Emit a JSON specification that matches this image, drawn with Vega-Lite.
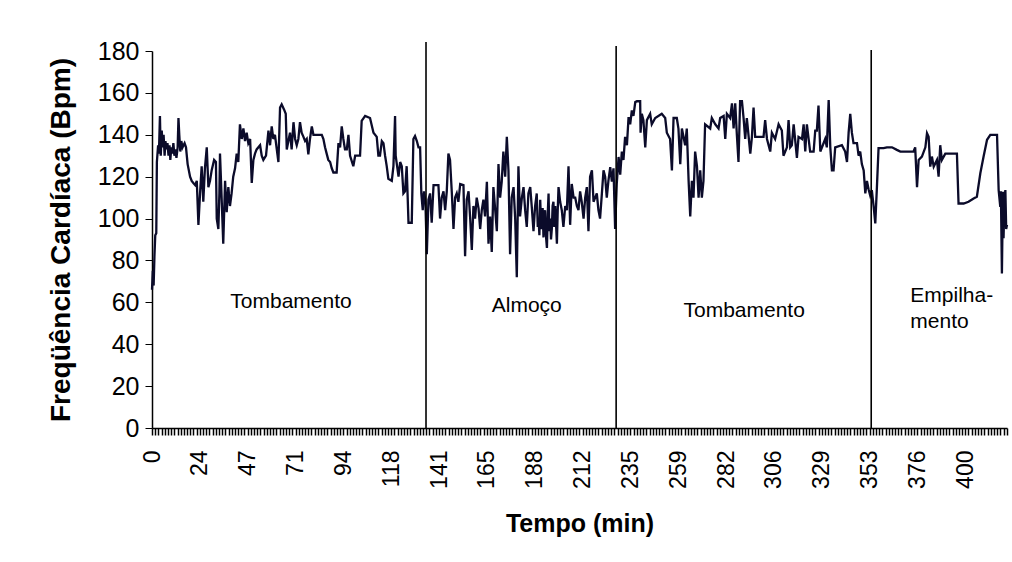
{
  "$schema": "https://vega.github.io/schema/vega-lite/v6.json",
  "width": 855,
  "height": 377,
  "autosize": {"type": "none"},
  "padding": {"left": 152, "top": 51, "right": 5, "bottom": 134},
  "background": "white",
  "config": {"view": {"stroke": null}, "font": "Liberation Sans"},
  "datasets": {
    "hr": [
      {"t":0,"hr":66},{"t":0.4,"hr":75},{"t":0.8,"hr":68},{"t":1.2,"hr":82},{"t":1.6,"hr":92},{"t":2.1,"hr":93},{"t":2.4,"hr":127},{"t":3.0,"hr":135},{"t":3.4,"hr":131},{"t":3.9,"hr":149},{"t":4.3,"hr":130},{"t":4.8,"hr":142},{"t":5.2,"hr":134},{"t":5.7,"hr":140},{"t":6.2,"hr":130},{"t":6.6,"hr":137},{"t":7.1,"hr":133},{"t":7.6,"hr":136},{"t":8.1,"hr":130},{"t":8.6,"hr":135},{"t":9.0,"hr":128},{"t":9.5,"hr":134},{"t":10.0,"hr":131},{"t":10.5,"hr":136},{"t":11.0,"hr":130},{"t":11.5,"hr":133},{"t":12.0,"hr":129},{"t":12.6,"hr":134},{"t":13.0,"hr":148},{"t":13.4,"hr":140},{"t":13.9,"hr":132},{"t":14.4,"hr":137},{"t":15.0,"hr":134},{"t":16.0,"hr":136},{"t":16.7,"hr":134},{"t":17.5,"hr":126},{"t":18.7,"hr":120},{"t":19.5,"hr":118},{"t":20.3,"hr":117},{"t":21.2,"hr":116},{"t":22.0,"hr":118},{"t":22.8,"hr":97},{"t":23.6,"hr":112},{"t":24.4,"hr":125},{"t":25.2,"hr":108},{"t":26.0,"hr":124},{"t":26.9,"hr":134},{"t":27.7,"hr":115},{"t":28.5,"hr":118},{"t":29.3,"hr":123},{"t":30.5,"hr":128},{"t":31.4,"hr":127},{"t":31.8,"hr":100},{"t":32.6,"hr":95},{"t":33.1,"hr":112},{"t":33.4,"hr":131},{"t":34.2,"hr":110},{"t":35.0,"hr":88},{"t":35.9,"hr":118},{"t":36.7,"hr":103},{"t":37.5,"hr":115},{"t":38.3,"hr":106},{"t":39.1,"hr":112},{"t":39.9,"hr":120},{"t":40.8,"hr":124},{"t":41.6,"hr":131},{"t":42.4,"hr":127},{"t":43.2,"hr":145},{"t":44.1,"hr":138},{"t":44.9,"hr":143},{"t":45.7,"hr":137},{"t":46.5,"hr":141},{"t":47.3,"hr":136},{"t":48.2,"hr":138},{"t":49.0,"hr":117},{"t":49.8,"hr":128},{"t":50.6,"hr":131},{"t":51.4,"hr":133},{"t":53.1,"hr":135},{"t":53.9,"hr":130},{"t":54.7,"hr":128},{"t":56.0,"hr":130},{"t":57.2,"hr":142},{"t":58.0,"hr":135},{"t":58.8,"hr":144},{"t":59.6,"hr":138},{"t":60.4,"hr":140},{"t":61.3,"hr":133},{"t":62.1,"hr":127},{"t":62.9,"hr":153},{"t":63.7,"hr":154.5},{"t":64.9,"hr":152},{"t":65.7,"hr":150},{"t":66.2,"hr":133},{"t":67.0,"hr":137},{"t":67.8,"hr":141},{"t":68.6,"hr":133},{"t":69.5,"hr":146},{"t":70.3,"hr":138},{"t":71.1,"hr":135},{"t":71.9,"hr":138},{"t":72.7,"hr":146},{"t":73.5,"hr":141},{"t":74.4,"hr":139},{"t":75.2,"hr":137},{"t":76.0,"hr":138},{"t":76.8,"hr":130.6},{"t":77.6,"hr":138},{"t":78.5,"hr":144},{"t":79.3,"hr":140},{"t":83.4,"hr":140},{"t":84.2,"hr":138},{"t":85.0,"hr":134},{"t":85.8,"hr":131},{"t":86.6,"hr":128},{"t":87.5,"hr":127},{"t":88.3,"hr":124},{"t":89.1,"hr":122},{"t":90.7,"hr":122},{"t":91.6,"hr":136},{"t":92.4,"hr":134},{"t":93.2,"hr":144},{"t":94.0,"hr":138},{"t":94.8,"hr":133},{"t":95.7,"hr":133},{"t":96.5,"hr":140},{"t":97.3,"hr":130},{"t":98.9,"hr":125},{"t":99.8,"hr":130},{"t":102.2,"hr":130},{"t":103.0,"hr":146.6},{"t":104.7,"hr":149},{"t":107.1,"hr":148},{"t":108.8,"hr":141},{"t":110.4,"hr":139},{"t":111.2,"hr":130},{"t":112.0,"hr":130},{"t":112.9,"hr":137},{"t":113.7,"hr":136},{"t":114.5,"hr":130},{"t":115.3,"hr":125},{"t":116.1,"hr":119},{"t":117.8,"hr":118},{"t":118.6,"hr":125},{"t":119.4,"hr":149},{"t":119.7,"hr":130},{"t":121.1,"hr":120},{"t":121.9,"hr":127},{"t":122.7,"hr":125},{"t":123.5,"hr":112},{"t":124.3,"hr":113},{"t":125.1,"hr":125},{"t":126.0,"hr":98},{"t":127.6,"hr":98},{"t":128.4,"hr":138},{"t":129.2,"hr":139.4},{"t":130.1,"hr":137},{"t":130.9,"hr":134},{"t":131.7,"hr":134},{"t":132.3,"hr":112},{"t":133.0,"hr":104},{"t":133.6,"hr":113},{"t":134.3,"hr":108},
      {"t":135.0,"hr":83},{"t":135.8,"hr":109},{"t":136.6,"hr":112},{"t":137.4,"hr":98},{"t":138.3,"hr":116},{"t":140.7,"hr":116},{"t":141.5,"hr":100},{"t":142.3,"hr":110},{"t":143.2,"hr":113},{"t":144.0,"hr":104},{"t":144.8,"hr":113},{"t":145.6,"hr":131},{"t":146.4,"hr":128},{"t":147.3,"hr":112},{"t":148.1,"hr":95},{"t":148.9,"hr":110},{"t":149.7,"hr":112},{"t":150.5,"hr":108},{"t":151.4,"hr":116.5},{"t":153.0,"hr":116},{"t":153.8,"hr":82},{"t":154.6,"hr":109},{"t":155.5,"hr":113},{"t":156.3,"hr":100},{"t":157.1,"hr":85},{"t":157.9,"hr":106},{"t":158.7,"hr":100},{"t":159.5,"hr":110},{"t":160.4,"hr":105},{"t":161.2,"hr":95},{"t":162.0,"hr":104},{"t":162.8,"hr":109},{"t":163.6,"hr":101},{"t":164.5,"hr":117.6},{"t":165.3,"hr":88},{"t":166.1,"hr":101},{"t":166.9,"hr":84},{"t":167.7,"hr":115},{"t":168.6,"hr":104},{"t":169.4,"hr":94},{"t":170.2,"hr":126},{"t":171.0,"hr":110},{"t":171.8,"hr":117.6},{"t":172.6,"hr":132},{"t":173.5,"hr":120},{"t":174.3,"hr":139},{"t":175.1,"hr":123},{"t":175.9,"hr":83},{"t":176.7,"hr":110},{"t":177.6,"hr":115},{"t":178.4,"hr":100},{"t":179.2,"hr":72},{"t":180.0,"hr":125},{"t":180.8,"hr":101},{"t":181.7,"hr":110},{"t":182.5,"hr":115},{"t":183.3,"hr":104},{"t":184.1,"hr":96},{"t":184.9,"hr":112},{"t":185.8,"hr":115},{"t":186.6,"hr":105},{"t":187.4,"hr":94},{"t":188.2,"hr":106},{"t":189.0,"hr":112},{"t":189.5,"hr":96},{"t":189.9,"hr":100},{"t":190.3,"hr":92},{"t":190.7,"hr":109},{"t":191.1,"hr":98},{"t":191.5,"hr":95},{"t":191.9,"hr":105},{"t":192.3,"hr":91},{"t":192.7,"hr":100},{"t":193.1,"hr":104},{"t":193.5,"hr":92},{"t":194.0,"hr":86},{"t":194.4,"hr":102},{"t":194.8,"hr":112},{"t":195.2,"hr":94},{"t":195.6,"hr":100},{"t":196.0,"hr":90},{"t":196.4,"hr":95},{"t":196.8,"hr":106},{"t":197.2,"hr":108},{"t":197.6,"hr":96},{"t":198.1,"hr":106},{"t":198.5,"hr":97},{"t":198.9,"hr":88},{"t":199.3,"hr":104},{"t":199.7,"hr":115},{"t":200.5,"hr":108},{"t":201.3,"hr":104},{"t":202.1,"hr":96},{"t":203.0,"hr":106},{"t":203.8,"hr":104},{"t":204.6,"hr":125},{"t":205.4,"hr":97},{"t":206.2,"hr":116.5},{"t":207.1,"hr":110},{"t":207.9,"hr":110},{"t":208.7,"hr":106},{"t":209.5,"hr":104},{"t":210.3,"hr":113},{"t":211.1,"hr":108},{"t":212.0,"hr":100},{"t":212.8,"hr":110},{"t":213.6,"hr":115},{"t":214.4,"hr":94},{"t":215.2,"hr":120},{"t":216.1,"hr":123},{"t":216.9,"hr":108},{"t":217.7,"hr":110},{"t":218.5,"hr":112},{"t":219.3,"hr":104},{"t":220.1,"hr":100},{"t":221.0,"hr":112},{"t":221.8,"hr":123},{"t":222.6,"hr":120},{"t":223.4,"hr":110},{"t":224.2,"hr":118},{"t":225.1,"hr":124.6},{"t":225.9,"hr":117.6},{"t":226.7,"hr":124},{"t":227.5,"hr":95},{"t":228.3,"hr":116.5},{"t":229.2,"hr":129.4},{"t":230.0,"hr":121},{"t":230.8,"hr":132},{"t":231.6,"hr":128},{"t":232.4,"hr":139},{"t":233.3,"hr":135},{"t":234.1,"hr":148.4},{"t":234.9,"hr":145},{"t":235.7,"hr":151.6},{"t":236.5,"hr":149},{"t":237.4,"hr":155.6},
      {"t":238.2,"hr":156},{"t":239.8,"hr":156},{"t":240.0,"hr":141},{"t":240.6,"hr":150},{"t":241.4,"hr":147},{"t":242.3,"hr":134},{"t":243.1,"hr":147},{"t":244.7,"hr":150},{"t":245.5,"hr":145},{"t":247.2,"hr":148},{"t":250.4,"hr":150},{"t":252.1,"hr":148},{"t":252.9,"hr":141},{"t":254.5,"hr":138},{"t":255.4,"hr":123},{"t":256.2,"hr":148},{"t":257.8,"hr":148},{"t":258.6,"hr":143},{"t":259.5,"hr":126},{"t":260.3,"hr":143},{"t":261.9,"hr":135},{"t":262.7,"hr":143},{"t":263.6,"hr":118},{"t":264.4,"hr":101},{"t":265.2,"hr":118},{"t":266.0,"hr":110},{"t":266.8,"hr":132},{"t":267.7,"hr":125},{"t":268.5,"hr":110},{"t":269.3,"hr":123},{"t":270.1,"hr":110},{"t":270.9,"hr":118},{"t":271.7,"hr":145},{"t":274.2,"hr":143},{"t":275.0,"hr":148},{"t":276.7,"hr":145},{"t":278.3,"hr":143},{"t":279.1,"hr":148},{"t":280.8,"hr":149},{"t":281.6,"hr":138},{"t":282.4,"hr":150},{"t":284.0,"hr":148},{"t":284.9,"hr":155},{"t":285.7,"hr":143},{"t":286.5,"hr":155},{"t":287.3,"hr":140},{"t":288.1,"hr":127},{"t":288.9,"hr":156},{"t":289.8,"hr":156},{"t":290.6,"hr":148},{"t":291.4,"hr":138},{"t":292.2,"hr":148},{"t":293.9,"hr":131},{"t":294.7,"hr":139},{"t":295.5,"hr":153},{"t":296.3,"hr":139},{"t":300.4,"hr":139},{"t":301.2,"hr":147},{"t":302.1,"hr":138},{"t":303.7,"hr":132},{"t":304.5,"hr":141},{"t":306.1,"hr":138},{"t":307.8,"hr":145},{"t":309.4,"hr":142},{"t":310.2,"hr":130},{"t":311.9,"hr":134},{"t":312.7,"hr":147},{"t":313.5,"hr":134},{"t":314.3,"hr":135},{"t":315.2,"hr":145},{"t":316.8,"hr":129},{"t":317.6,"hr":139},{"t":319.3,"hr":138},{"t":320.1,"hr":145},{"t":320.9,"hr":132},{"t":321.7,"hr":145},{"t":323.3,"hr":132},{"t":325.0,"hr":132},{"t":325.8,"hr":142},{"t":326.6,"hr":142},{"t":327.4,"hr":154},{"t":328.3,"hr":132},{"t":330.7,"hr":138},{"t":331.5,"hr":134},{"t":332.4,"hr":156.6},{"t":333.2,"hr":134},{"t":334.0,"hr":123},{"t":334.8,"hr":123},{"t":335.6,"hr":134},{"t":338.9,"hr":135},{"t":340.5,"hr":132},{"t":341.4,"hr":127},{"t":342.2,"hr":141},{"t":343.0,"hr":150},{"t":343.8,"hr":141},{"t":344.6,"hr":136},{"t":346.3,"hr":136},{"t":347.1,"hr":130},{"t":347.9,"hr":132},{"t":348.7,"hr":126},{"t":349.6,"hr":123},{"t":350.4,"hr":112},{"t":351.2,"hr":118},{"t":352.0,"hr":114},{"t":352.8,"hr":111},{"t":353.6,"hr":113.6},{"t":354.5,"hr":105.7},{"t":355.3,"hr":97.7},{"t":356.1,"hr":115},{"t":356.9,"hr":133.6},
      {"t":359.4,"hr":133.6},{"t":361.0,"hr":134},{"t":363.5,"hr":134},{"t":365.9,"hr":132.8},{"t":367.6,"hr":132},{"t":374.1,"hr":132},{"t":374.9,"hr":134},{"t":375.8,"hr":115},{"t":376.6,"hr":128},{"t":378.2,"hr":129.6},{"t":379.9,"hr":134},{"t":380.7,"hr":140.7},{"t":381.5,"hr":139},{"t":382.3,"hr":124.8},{"t":383.1,"hr":129.6},{"t":384.0,"hr":124.8},{"t":385.6,"hr":128},{"t":386.4,"hr":120},{"t":387.2,"hr":135},{"t":388.0,"hr":128},{"t":389.7,"hr":131},{"t":395.4,"hr":131},{"t":396.2,"hr":107.2},{"t":398.7,"hr":107.2},{"t":401.1,"hr":108},{"t":403.6,"hr":109.6},{"t":405.2,"hr":110.4},{"t":406.9,"hr":121.6},{"t":408.5,"hr":129.6},{"t":410.2,"hr":137.6},{"t":411.8,"hr":140},{"t":415.1,"hr":140},{"t":415.9,"hr":113.6},{"t":416.7,"hr":105.6},{"t":417.0,"hr":113},{"t":417.5,"hr":73.8},{"t":418.0,"hr":112.8},{"t":418.3,"hr":90.6},{"t":418.8,"hr":110},{"t":419.2,"hr":113.6},{"t":419.6,"hr":95},{"t":420,"hr":97}
    ],
    "lines": [
      {"t":134.6,"bottom":0,"top":184.3},
      {"t":228,"bottom":0,"top":182.4},
      {"t":353.3,"bottom":0,"top":180.5}
    ],
    "notes": [
      {"t":68.3,"v":57.3,"label":"Tombamento"},
      {"t":184.1,"v":55.5,"label":"Almoço"},
      {"t":290.9,"v":53.2,"label":"Tombamento"}
    ],
    "notes2": [
      {"t":372.5,"v":60.2,"label":"Empilha-"},
      {"t":372.5,"v":47.8,"label":"mento"}
    ]
  },
  "layer": [
    {
      "data": {"name": "hr"},
      "mark": {"type": "line", "color": "#0b0b2a", "strokeWidth": 2.3},
      "encoding": {
        "x": {
          "field": "t", "type": "quantitative",
          "scale": {"domain": [0, 420], "nice": false, "zero": false},
          "axis": {
            "title": "Tempo (min)", "titleFontSize": 25, "titleFontWeight": "bold", "titleColor": "black", "titlePadding": 23,
            "tickCount": 1000,
            "values": [0,1.567,3.133,4.7,6.267,7.833,9.4,10.967,12.533,14.1,15.667,17.233,18.8,20.367,21.933,
              23.5,25.067,26.633,28.2,29.767,31.333,32.9,34.467,36.033,37.6,39.167,40.733,42.3,43.867,45.433,
              47,48.567,50.133,51.7,53.267,54.833,56.4,57.967,59.533,61.1,62.667,64.233,65.8,67.367,68.933,
              70.5,72.067,73.633,75.2,76.767,78.333,79.9,81.467,83.033,84.6,86.167,87.733,89.3,90.867,92.433,
              94,95.567,97.133,98.7,100.267,101.833,103.4,104.967,106.533,108.1,109.667,111.233,112.8,114.367,115.933,
              117.5,119.067,120.633,122.2,123.767,125.333,126.9,128.467,130.033,131.6,133.167,134.733,136.3,137.867,139.433,
              141,142.567,144.133,145.7,147.267,148.833,150.4,151.967,153.533,155.1,156.667,158.233,159.8,161.367,162.933,
              164.5,166.067,167.633,169.2,170.767,172.333,173.9,175.467,177.033,178.6,180.167,181.733,183.3,184.867,186.433,
              188,189.567,191.133,192.7,194.267,195.833,197.4,198.967,200.533,202.1,203.667,205.233,206.8,208.367,209.933,
              211.5,213.067,214.633,216.2,217.767,219.333,220.9,222.467,224.033,225.6,227.167,228.733,230.3,231.867,233.433,
              235,236.567,238.133,239.7,241.267,242.833,244.4,245.967,247.533,249.1,250.667,252.233,253.8,255.367,256.933,
              258.5,260.067,261.633,263.2,264.767,266.333,267.9,269.467,271.033,272.6,274.167,275.733,277.3,278.867,280.433,
              282,283.567,285.133,286.7,288.267,289.833,291.4,292.967,294.533,296.1,297.667,299.233,300.8,302.367,303.933,
              305.5,307.067,308.633,310.2,311.767,313.333,314.9,316.467,318.033,319.6,321.167,322.733,324.3,325.867,327.433,
              329,330.567,332.133,333.7,335.267,336.833,338.4,339.967,341.533,343.1,344.667,346.233,347.8,349.367,350.933,
              352.5,354.067,355.633,357.2,358.767,360.333,361.9,363.467,365.033,366.6,368.167,369.733,371.3,372.867,374.433,
              376,377.567,379.133,380.7,382.267,383.833,385.4,386.967,388.533,390.1,391.667,393.233,394.8,396.367,397.933,
              399.5,401.067,402.633,404.2,405.767,407.333,408.9,410.467,412.033,413.6,415.167,416.733,418.3,419.867],
            "labelExpr": "abs(datum.value/23.5 - round(datum.value/23.5)) < 0.001 ? format(datum.value, '.0f') : ''",
            "labelAngle": 270, "labelFontSize": 23, "labelColor": "black", "labelPadding": 15,
            "labelOverlap": false, "labelBound": false, "labelFlush": false,
            "tickSize": 7, "tickColor": "black", "tickWidth": 1.5,
            "domainColor": "black", "domainWidth": 1.5, "grid": false
          }
        },
        "y": {
          "field": "hr", "type": "quantitative",
          "scale": {"domain": [0, 180], "nice": false},
          "axis": {
            "title": "Freqüência Cardíaca (Bpm)", "titleFontSize": 28, "titleFontWeight": "bold", "titleColor": "black", "titlePadding": 22,
            "values": [0,20,40,60,80,100,120,140,160,180],
            "labelFontSize": 25, "labelColor": "black", "labelPadding": 6,
            "tickSize": 7, "tickColor": "black", "tickWidth": 1,
            "domainColor": "black", "domainWidth": 1.5, "grid": false
          }
        }
      }
    },
    {
      "data": {"name": "lines"},
      "mark": {"type": "rule", "color": "black", "strokeWidth": 1.6},
      "encoding": {
        "x": {"field": "t", "type": "quantitative"},
        "y": {"field": "bottom", "type": "quantitative"},
        "y2": {"field": "top"}
      }
    },
    {
      "data": {"name": "notes"},
      "mark": {"type": "text", "fontSize": 21, "align": "center", "baseline": "alphabetic", "color": "black"},
      "encoding": {
        "x": {"field": "t", "type": "quantitative"},
        "y": {"field": "v", "type": "quantitative"},
        "text": {"field": "label"}
      }
    },
    {
      "data": {"name": "notes2"},
      "mark": {"type": "text", "fontSize": 21, "align": "left", "baseline": "alphabetic", "color": "black"},
      "encoding": {
        "x": {"field": "t", "type": "quantitative"},
        "y": {"field": "v", "type": "quantitative"},
        "text": {"field": "label"}
      }
    }
  ]
}
